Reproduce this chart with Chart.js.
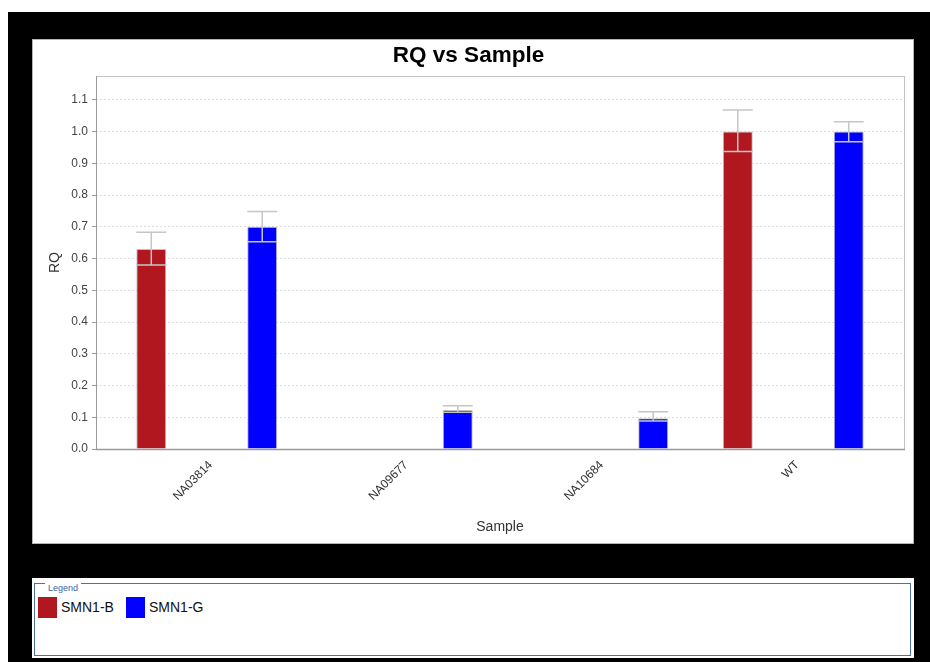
<!DOCTYPE html>
<html>
<head>
<meta charset="utf-8">
<title>RQ vs Sample</title>
<script src="https://cdn.jsdelivr.net/npm/chart.js@4/dist/chart.umd.min.js"></script>
<style>
    body {
        margin: 0;
        width: 930px;
        height: 662px;
        background: #fff;
        position: relative;
        overflow: hidden;
        font-family: 'Liberation Sans', Arial, sans-serif;
    }
    #outer {
        position: absolute;
        left: 8px;
        top: 12px;
        width: 922px;
        height: 650px;
        background: #000;
    }
    #chart-panel {
        position: absolute;
        left: 32px;
        top: 39px;
        width: 880px;
        height: 503px;
        border: 1px solid #b4b4b4;
        background: #fff;
    }
    #chart-panel canvas { display: block; }
    #legend-panel {
        position: absolute;
        left: 32px;
        top: 578px;
        width: 882px;
        height: 80px;
        background: #fff;
    }
    #legend-box {
        position: absolute;
        left: 2px;
        top: 5px;
        width: 877px;
        height: 73px;
        box-sizing: border-box;
        border: 1px solid #4d71a4;
    }
    #legend-box .caption {
        position: absolute;
        left: 10px;
        top: -2px;
        padding: 0 3px;
        background: #fff;
        color: #3a66a6;
        font-size: 9px;
        line-height: 12px;
    }
    .legend-item {
        position: absolute;
        top: 13px;
        font-size: 14px;
        line-height: 21px;
        color: #111;
    }
    .legend-item .swatch {
        position: absolute;
        left: 0;
        top: 0;
        width: 19px;
        height: 21px;
    }
    .legend-item .name {
        position: absolute;
        left: 23px;
        top: 0;
        white-space: nowrap;
    }
</style>
</head>
<body>
<div id="outer"></div>
<div id="chart-panel"><canvas id="rqChart" width="880" height="503"></canvas></div>
<div id="legend-panel">
    <div id="legend-box"><span class="caption">Legend</span></div>
</div>

<script>
// Samples on the x axis
const samples = ['NA03814', 'NA09677', 'NA10684', 'WT'];

// RQ per target, null where the sample has no result
const rqSmn1B = [0.63, null, null, 1.0];
const rqSmn1G = [0.70, 0.123, 0.097, 1.0];

// RQ min / max (error bar ends)
const rqMinSmn1B = [0.58, null, null, 0.937];
const rqMaxSmn1B = [0.683, null, null, 1.068];
const rqMinSmn1G = [0.653, 0.116, 0.088, 0.968];
const rqMaxSmn1G = [0.748, 0.136, 0.117, 1.031];

const yTicks = [0, 0.1, 0.2, 0.3, 0.4, 0.5, 0.6, 0.7, 0.8, 0.9, 1.0, 1.1];

const toPoints = (values) => values.map((v, i) => ({ x: i, y: v }));

// draws the min/max whiskers on top of each bar
const errorBars = {
    id: 'errorBars',
    afterDatasetsDraw(chart) {
        const ctx = chart.ctx;
        const yScale = chart.scales.y;
        ctx.save();
        ctx.strokeStyle = '#c6c6c6';
        ctx.lineWidth = 1.5;
        chart.data.datasets.forEach((ds, i) => {
            const meta = chart.getDatasetMeta(i);
            meta.data.forEach((bar, j) => {
                if (ds.data[j].y == null) return;
                const lo = yScale.getPixelForValue(ds.rqMin[j]);
                const hi = yScale.getPixelForValue(ds.rqMax[j]);
                const half = bar.width / 2;
                ctx.beginPath();
                ctx.moveTo(bar.x, lo);
                ctx.lineTo(bar.x, hi);
                ctx.moveTo(bar.x - half, hi);
                ctx.lineTo(bar.x + half, hi);
                ctx.moveTo(bar.x - half, lo);
                ctx.lineTo(bar.x + half, lo);
                ctx.stroke();
            });
        });
        ctx.restore();
    }
};

// box round the plot area
const plotFrame = {
    id: 'plotFrame',
    afterDatasetsDraw(chart) {
        const { ctx, chartArea: a } = chart;
        ctx.save();
        ctx.lineWidth = 1;
        ctx.strokeStyle = '#c4c4c4';
        ctx.strokeRect(a.left + 0.5, a.top + 0.5, a.right - a.left, a.bottom - a.top);
        ctx.strokeStyle = '#9a9a9a';
        ctx.beginPath();
        ctx.moveTo(a.left + 0.5, a.top);
        ctx.lineTo(a.left + 0.5, a.bottom + 0.5);
        ctx.stroke();
        ctx.lineWidth = 1.5;
        ctx.beginPath();
        ctx.moveTo(a.left, a.bottom + 0.5);
        ctx.lineTo(a.right + 1, a.bottom + 0.5);
        ctx.stroke();
        ctx.restore();
    }
};

const chart = new Chart(document.getElementById('rqChart').getContext('2d'), {
    type: 'bar',
    data: {
        datasets: [{
            label: 'SMN1-B',
            data: toPoints(rqSmn1B),
            rqMin: rqMinSmn1B,
            rqMax: rqMaxSmn1B,
            backgroundColor: '#b0171f',
            borderColor: '#c0c0c0',
            borderWidth: 1
        }, {
            label: 'SMN1-G',
            data: toPoints(rqSmn1G),
            rqMin: rqMinSmn1G,
            rqMax: rqMaxSmn1G,
            backgroundColor: '#0000ff',
            borderColor: '#c0c0c0',
            borderWidth: 1
        }]
    },
    options: {
        responsive: false,
        animation: false,
        categoryPercentage: 1.135,
        barPercentage: 0.27,
        layout: { padding: { left: 0, right: 9, top: 0, bottom: 0 } },
        plugins: {
            legend: { display: false },
            tooltip: { enabled: false },
            title: {
                display: true,
                text: 'RQ vs Sample',
                color: '#000',
                font: { family: "'Liberation Sans', Arial, sans-serif", size: 22.5, weight: 'bold' },
                padding: { top: 2.5, bottom: 6.5 }
            }
        },
        scales: {
            x: {
                type: 'linear',
                offset: false,
                min: -0.5665,
                max: 3.5665,
                afterBuildTicks: (scale) => {
                    scale.ticks = samples.map((_, i) => ({ value: i }));
                },
                afterFit: (scale) => { scale.height = 94; },
                grid: { display: false, drawTicks: false },
                border: { display: false },
                ticks: {
                    autoSkip: false,
                    maxRotation: 45,
                    minRotation: 45,
                    padding: 9,
                    labelOffset: 4,
                    color: '#333',
                    font: { family: "'Liberation Sans', Arial, sans-serif", size: 12 },
                    callback: (v) => samples[v]
                },
                title: {
                    display: true,
                    text: 'Sample',
                    color: '#333',
                    font: { family: "'Liberation Sans', Arial, sans-serif", size: 14 },
                    padding: { top: 0, bottom: 7.6 }
                }
            },
            y: {
                min: 0,
                max: 1.175,
                afterBuildTicks: (scale) => {
                    scale.ticks = yTicks.map((v) => ({ value: v }));
                },
                afterFit: (scale) => { scale.width = 63; },
                grid: {
                    color: '#dcdcdc',
                    lineWidth: 1,
                    tickLength: 4,
                    tickColor: '#9a9a9a',
                    tickBorderDash: []
                },
                border: { display: false, dash: [2, 2] },
                ticks: {
                    padding: 4,
                    color: '#444',
                    font: { family: "'Liberation Sans', Arial, sans-serif", size: 12 },
                    callback: (v) => Number(v).toFixed(1)
                },
                title: {
                    display: true,
                    text: 'RQ',
                    color: '#333',
                    font: { family: "'Liberation Sans', Arial, sans-serif", size: 14 },
                    padding: { top: 13.6, bottom: 0 }
                }
            }
        }
    },
    plugins: [errorBars, plotFrame]
});

// legend entries under the chart, one per target
const legendBox = document.getElementById('legend-box');
const itemLefts = [3, 91];
chart.data.datasets.forEach((ds, i) => {
    const item = document.createElement('div');
    item.className = 'legend-item';
    item.style.left = itemLefts[i] + 'px';
    item.innerHTML = `<span class="swatch" style="background:${ds.backgroundColor}"></span><span class="name">${ds.label}</span>`;
    legendBox.appendChild(item);
});
</script>
</body>
</html>
